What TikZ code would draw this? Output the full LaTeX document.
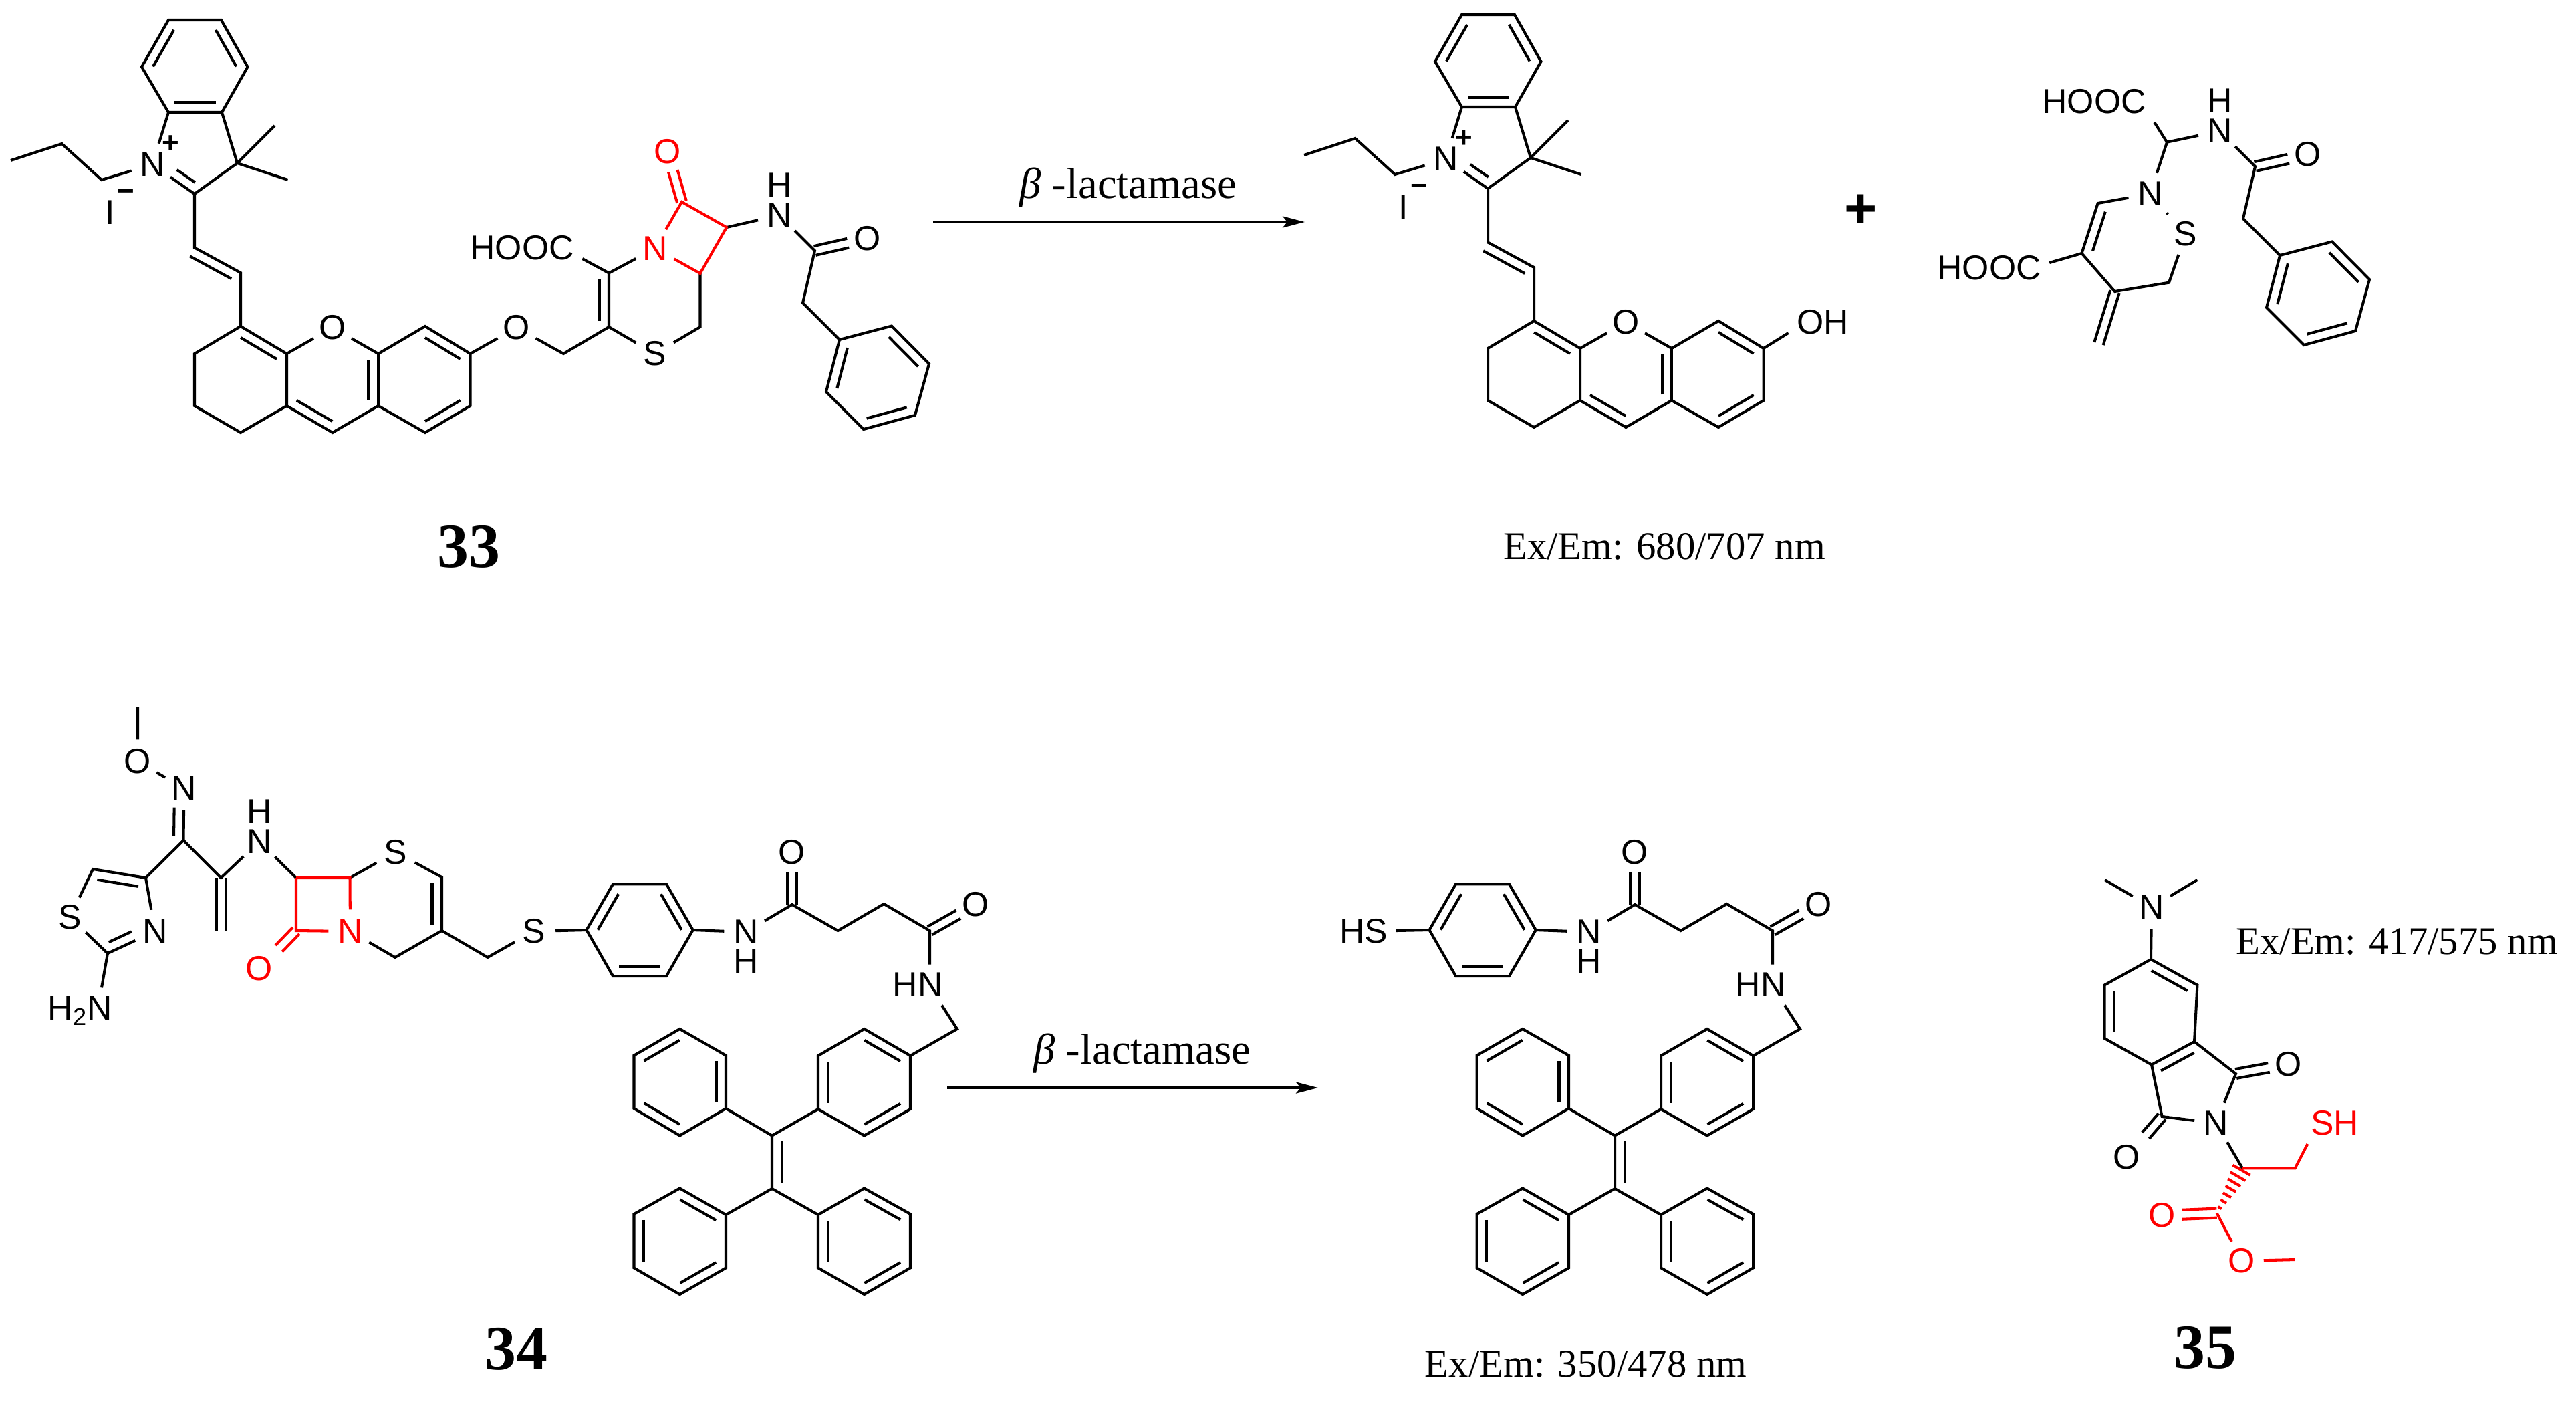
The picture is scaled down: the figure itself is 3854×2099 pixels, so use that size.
\documentclass[tikz,border=0pt]{standalone}
\usepackage{fontspec}
\setmainfont{Liberation Serif}
\newfontfamily\chemfont{Liberation Sans}
\usetikzlibrary{calc,arrows.meta}
\newcommand{\chemsize}{\fontsize{14.7}{16}\selectfont\chemfont}
\tikzset{
	bond/.style = {line width = 1.15pt},
	atom/.style = {circle, inner sep = 0pt, minimum size = .64cm, font = \chemsize},
	group/.style = {inner sep = .12cm, font = \chemsize},
	charge/.style = {inner sep = 0pt, font = \fontsize{12.5}{14}\selectfont\chemfont\bfseries},
	compound/.style = {anchor = base, inner sep = 0pt, font = \fontsize{26.7}{30}\selectfont\bfseries},
	note/.style = {anchor = base, inner sep = 0pt, font = \fontsize{16.7}{20}\selectfont},
	enzyme/.style = {anchor = base, inner sep = 0pt, font = \fontsize{18.4}{20}\selectfont},
	react/.style = {line width = 1.1pt, -{Stealth[length = .33cm, width = .17cm, inset = .07cm]}}
}
\newcommand{\inbond}[5][black]{
	\draw [bond, #1] ($(#2)!#4!(#3)!.145cm!90:(#3)$) -- ($(#3)!#5!(#2)!.145cm!-90:(#2)$);
}
\newcommand{\rbond}[3][black]{\inbond[#1]{#2}{#3}{.11}{.11}}
\newcommand{\twobond}[4][black]{
	\draw [bond, #1, shorten > = #4] ($(#2)!.07cm!90:(#3)$) -- ($(#3)!.07cm!-90:(#2)$);
	\draw [bond, #1, shorten > = #4] ($(#2)!.07cm!-90:(#3)$) -- ($(#3)!.07cm!90:(#2)$);
}
\newcommand{\cyanine}[3]{
	\foreach \n/\x/\y in {b1/252/30, b2/331/30, b3/370.5/100, b4/332/168, b5/252/168, b6/212/100,
		cq/355/244, me1/411/188, me2/430.5/269, c2/291/290, pr1/16/240, pr2/92.5/215, pr3/152/269,
		v1/291/370.5, v2/360/408, r1/360/488, r2/429/529, r3/566/529, r4/636/488, r5/703.5/529,
		r6/703.5/607, r7/636/647, r8/566/607, r9/497.5/647, r10/429/607, r11/360/647, r12/291/607, r13/291/529}
		\coordinate (#1\n) at (#2+\x,#3+\y);
	\node [atom] (#1n) at (#2+228,#3+246) {N};
	\node [atom] (#1ox) at (#2+497.5,#3+490) {O};
	\node [charge] (#1plus) at (#2+255,#3+216) {+};
	\node [group, inner sep = 0pt] (#1iod) at (#2+165,#3+318) {I};
	\node [charge] (#1minus) at (#2+188,#3+292) {−};
	\draw [bond] (#1b1) -- (#1b2) -- (#1b3) -- (#1b4) -- (#1b5) -- (#1b6) -- cycle;
	\draw [bond] (#1b5) -- (#1n) -- (#1pr3) -- (#1pr2) -- (#1pr1);
	\draw [bond] (#1b4) -- (#1cq) -- (#1c2) -- (#1n);
	\draw [bond] (#1me1) -- (#1cq) -- (#1me2);
	\draw [bond] (#1c2) -- (#1v1) -- (#1v2) -- (#1r1) -- (#1r2) -- (#1r10) -- (#1r11) -- (#1r12) -- (#1r13) -- (#1r1);
	\draw [bond] (#1r2) -- (#1ox) -- (#1r3) -- (#1r4) -- (#1r5) -- (#1r6) -- (#1r7) -- (#1r8) -- (#1r9) -- (#1r10);
	\draw [bond] (#1r3) -- (#1r8);
	\rbond{#1b1}{#1b6}
	\rbond{#1b3}{#1b2}
	\rbond{#1b5}{#1b4}
	\inbond{#1n}{#1c2}{.45}{.12}
	\inbond{#1v2}{#1v1}{.1}{0}
	\rbond{#1r2}{#1r1}
	\rbond{#1r8}{#1r3}
	\rbond{#1r5}{#1r4}
	\rbond{#1r7}{#1r6}
	\rbond{#1r10}{#1r9}
}
\newcommand{\amidearm}[3]{
	\foreach \n/\x/\y in {co/1219/375, ch/1201/453, ph1/1256/508, ph2/1334/487.5, ph3/1390/544, ph4/1369/621, ph5/1292/642, ph6/1236/586}
		\coordinate (#1\n) at (#2+\x,#3+\y);
	\node [atom] (#1nh) at (#2+1166,#3+322) {N};
	\node [atom] (#1hyd) at (#2+1166,#3+276.5) {H};
	\node [atom] (#1oam) at (#2+1298,#3+357) {O};
	\draw [bond] (#1nh) -- (#1co) -- (#1ch) -- (#1ph1) -- (#1ph2) -- (#1ph3) -- (#1ph4) -- (#1ph5) -- (#1ph6) -- (#1ph1);
	\twobond{#1co}{#1oam}{.3cm}
	\rbond{#1ph3}{#1ph2}
	\rbond{#1ph5}{#1ph4}
	\rbond{#1ph1}{#1ph6}
}
\newcommand{\tpearm}[2]{
	\foreach \n/\x/\y in {p1/877.5/1391, p2/917/1322.4, p3/997/1322.4, p4/1036.7/1391, p5/997/1460, p6/917/1460,
		ca/1185/1353, ch1/1253.6/1392, ch2/1322.4/1352, cb/1391/1392, bz/1432/1539,
		q1/1362/1579, q2/1293/1539, q3/1224/1579, q4/1224/1659, q5/1293/1698.5, q6/1362/1659,
		e1/1155/1698.5, e2/1155/1778,
		t1/1086/1658, t2/1086/1578.6, t3/1017/1539, t4/948.5/1578.6, t5/948.5/1658, t6/1017/1698.5,
		u1/1086/1817, u2/1017/1777.5, u3/948.5/1816, u4/948.5/1896.4, u5/1017/1936, u6/1086/1896.4,
		w1/1224/1817, w2/1293/1777.5, w3/1362/1816, w4/1362/1896.4, w5/1293/1936, w6/1224/1896.4}
		\coordinate (#1\n) at (#2+\x,\y);
	\node [atom] (#1nh) at (#2+1116,1394) {N};
	\node [atom] (#1hyd) at (#2+1116,1438) {H};
	\node [atom] (#1oa) at (#2+1185,1275) {O};
	\node [atom] (#1ob) at (#2+1460,1353) {O};
	\node [group] (#1hn) at (#2+1373,1473) {HN};
	\draw [bond] (#1p1) -- (#1p2) -- (#1p3) -- (#1p4) -- (#1p5) -- (#1p6) -- cycle;
	\draw [bond] (#1p4) -- (#1nh) -- (#1ca) -- (#1ch1) -- (#1ch2) -- (#1cb) -- ([xshift = .18cm]#1hn.north);
	\draw [bond] ([xshift = .36cm]#1hn.south) -- (#1bz) -- (#1q1);
	\twobond{#1ca}{#1oa}{.3cm}
	\twobond{#1cb}{#1ob}{.3cm}
	\foreach \r in {q,t,u,w}
		\draw [bond] (#1\r1) -- (#1\r2) -- (#1\r3) -- (#1\r4) -- (#1\r5) -- (#1\r6) -- cycle;
	\draw [bond] (#1q4) -- (#1e1) -- (#1t1);
	\draw [bond] (#1e1) -- (#1e2) -- (#1u1);
	\draw [bond] (#1e2) -- (#1w1);
	\rbond{#1p2}{#1p1}
	\rbond{#1p4}{#1p3}
	\rbond{#1p6}{#1p5}
	\rbond{#1q1}{#1q2}
	\rbond{#1q3}{#1q4}
	\rbond{#1q5}{#1q6}
	\rbond{#1e1}{#1e2}
	\rbond{#1t1}{#1t2}
	\rbond{#1t3}{#1t4}
	\rbond{#1t5}{#1t6}
	\rbond{#1u1}{#1u2}
	\rbond{#1u3}{#1u4}
	\rbond{#1u5}{#1u6}
	\rbond{#1w1}{#1w6}
	\rbond{#1w3}{#1w2}
	\rbond{#1w5}{#1w4}
}
\begin{document}
\begin{tikzpicture}[x = .01cm, y = -.01cm]
	\useasboundingbox (0,0) rectangle (3854,2099);

	\cyanine{a}{0}{0}
	\amidearm{a}{0}{0}
	\foreach \n/\x/\y in {c5/911/489, c6/911/408.5, s1/843/529, s2/1047.5/489, s3/1047.5/409, s4/1087/340, s5/1020/302}
		\coordinate (a\n) at (\x,\y);
	\node [atom] (aeth) at (773,490) {O};
	\node [group] (acooh) at (781,371) {HOOC};
	\node [atom] (asul) at (979.6,529) {S};
	\node [atom, red] (alac) at (980,371.5) {N};
	\node [atom, red] (aoxo) at (998.5,227) {O};
	\draw [bond] (ar5) -- (aeth) -- (as1) -- (ac5) -- (ac6) -- ([yshift = -.16cm]acooh.east);
	\draw [bond] (ac5) -- (asul) -- (as2) -- (as3);
	\draw [bond] (ac6) -- (alac);
	\draw [bond] (as4) -- (anh);
	\draw [bond, red] (alac) -- (as5) -- (as4) -- (as3) -- (alac);
	\twobond[red]{as5}{aoxo}{.3cm}
	\rbond{ac5}{ac6}
	\node [compound] (cpa) at (701.5,848) {33};

	\coordinate (arra) at (1396,332);
	\coordinate (arrb) at (1952,332);
	\draw [react] (arra) -- (arrb);
	\node [enzyme] (lbla) at (1688,296) {\textit{β} -lactamase};

	\cyanine{d}{1935}{-8}
	\node [group] (doh) at (2727,482) {OH};
	\draw [bond] (dr5) -- ([yshift = -.16cm]doh.west);
	\node [note] (exa) at (2490,836) {Ex/Em: 680/707 nm};

	\node [charge, font = \fontsize{24}{26}\selectfont\chemfont\bfseries] (plus) at (2784,316) {+};

	\amidearm{f}{2155}{-126}
	\foreach \n/\x/\y in {h/3242/212.7, a/3138.6/304, b/3114.5/379, c/3164/436, d/3245/422.7, m/3140/514}
		\coordinate (f\n) at (\x,\y);
	\node [group] (fcta) at (3133,152) {HOOC};
	\node [group] (fctb) at (2976,401) {HOOC};
	\node [atom] (fnit) at (3216.7,290) {N};
	\node [atom] (fsul) at (3270,350) {S};
	\draw [bond] (fcta.south east) -- (fh) -- (fnh);
	\draw [bond] (fh) -- (fnit) -- (fa) -- (fb) -- (fc) -- (fd) -- (fsul);
	\draw [bond, shorten < = .05cm, shorten > = .07cm] (fnit) -- (fsul);
	\draw [bond] (fb) -- ([yshift = .08cm]fctb.east);
	\twobond{fc}{fm}{0cm}
	\rbond{fa}{fb}

	\foreach \n/\x/\y in {me/206/1058, im/274.5/1257, th1/218/1313, th2/139/1300, th3/161/1426, vi/330.6/1313, vj/330.6/1392,
		la/443/1313, lb/523.5/1313, lc/443/1392, sa/661/1312, sb/661/1392, sc/591/1432, ln/729.6/1432}
		\coordinate (g\n) at (\x,\y);
	\node [atom] (goxy) at (206,1139) {O};
	\node [atom] (gnim) at (275.5,1179) {N};
	\node [atom] (gnth) at (232,1393) {N};
	\node [atom] (gsth) at (104.6,1372) {S};
	\node [anchor = base, group] (gamin) at (120,1525.6) {H\textsubscript{2}N};
	\node [atom] (gamd) at (388,1258.5) {N};
	\node [atom] (gamh) at (388,1214) {H};
	\node [atom] (gsul) at (592,1274.6) {S};
	\node [atom, red] (gnla) at (524,1393) {N};
	\node [atom, red] (goxo) at (388,1449) {O};
	\node [atom] (gsl) at (798.5,1393) {S};
	\tpearm{g}{0}
	\draw [bond] (gme) -- (goxy) -- (gnim) -- (gim) -- (gth1) -- (gth2) -- (gsth) -- (gth3) -- (gnth) -- (gth1);
	\draw [bond] (gth3) -- ([xshift = .32cm]gamin.north);
	\draw [bond] (gim) -- (gvi) -- (gamd) -- (gla);
	\draw [bond] (glb) -- (gsul) -- (gsa) -- (gsb) -- (gsc) -- (gnla);
	\draw [bond] (gsb) -- (gln) -- (gsl) -- (gp1);
	\draw [bond, red] (gla) -- (glb) -- (gnla) -- (glc) -- (gla);
	\twobond{gvi}{gvj}{0cm}
	\twobond[red]{glc}{goxo}{.42cm}
	\inbond{gim}{gnim}{.09}{.37}
	\inbond{gth3}{gnth}{.11}{.41}
	\rbond{gth1}{gth2}
	\rbond{gsb}{gsa}
	\node [compound] (cpb) at (772,2048) {34};

	\coordinate (arrc) at (1417,1627);
	\coordinate (arrd) at (1972,1627);
	\draw [react] (arrc) -- (arrd);
	\node [enzyme] (lblb) at (1709,1591) {\textit{β} -lactamase};

	\tpearm{e}{1261}
	\node [group] (ehs) at (2040,1393) {HS};
	\draw [bond] (ehs) -- (ep1);
	\node [note] (exb) at (2372.5,2059) {Ex/Em: 350/478 nm};

	\foreach \n/\x/\y in {ma/3149/1316, mb/3287.4/1316, s1/3218/1435, s2/3287.4/1473.5, s3/3283/1558, s4/3219/1592.5, s5/3148.5/1553, s6/3148.5/1473.5,
		ka/3345/1606, kb/3234.6/1670, st/3355/1747.4, ca/3433.6/1747.4, cb/3316.6/1814.6, oe/3433.6/1884}
		\coordinate (h\n) at (\x,\y);
	\node [atom] (hnme) at (3219,1357) {N};
	\node [atom] (hnim) at (3315.6,1680) {N};
	\node [atom] (hoa) at (3424,1591.5) {O};
	\node [atom] (hob) at (3182,1731) {O};
	\node [group, red] (hsh) at (3493,1680) {SH};
	\node [atom, red] (hoc) at (3234.6,1818) {O};
	\node [atom, red] (hod) at (3354,1886) {O};
	\node [note] (exc) at (3586,1427) {Ex/Em: 417/575 nm};
	\draw [bond] (hma) -- (hnme) -- (hmb);
	\draw [bond] (hnme) -- (hs1) -- (hs2) -- (hs3) -- (hs4) -- (hs5) -- (hs6) -- (hs1);
	\draw [bond] (hs3) -- (hka) -- (hnim) -- (hkb) -- (hs4);
	\draw [bond] (hnim) -- (hst);
	\draw [bond, red] (hst) -- (hca) -- ([xshift = .08cm]hsh.south west);
	\draw [bond, red] (hcb) -- (hod) -- (hoe);
	\foreach \t/\w in {.04/.15, .18/.13, .32/.11, .46/.09, .6/.07, .74/.05, .88/.03}
		\draw [bond, red] ($(hst)!\t!(hcb)!\w cm!90:(hcb)$) -- ($(hst)!\t!(hcb)!\w cm!-90:(hcb)$);
	\twobond{hka}{hoa}{.3cm}
	\twobond{hkb}{hob}{.43cm}
	\twobond[red]{hcb}{hoc}{.3cm}
	\rbond{hs2}{hs1}
	\rbond{hs6}{hs5}
	\rbond{hs3}{hs4}
	\node [compound] (cpc) at (3299,2046) {35};
\end{tikzpicture}
\end{document}
